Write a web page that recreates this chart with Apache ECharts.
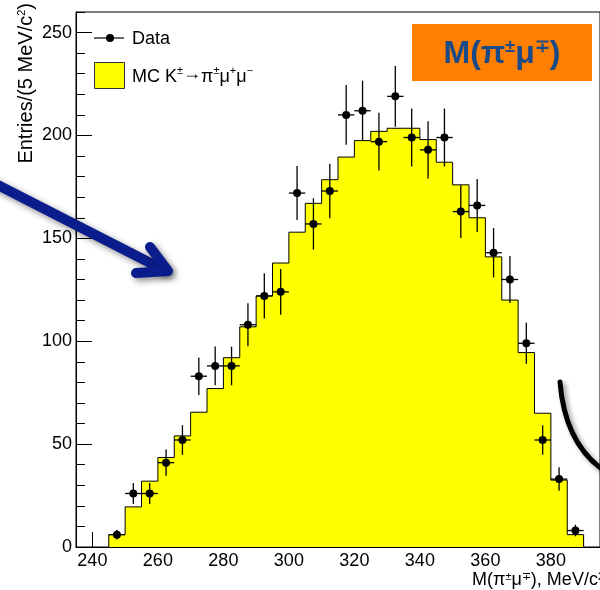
<!DOCTYPE html>
<html>
<head>
<meta charset="utf-8">
<script src="https://cdn.jsdelivr.net/npm/echarts@6.0.0/dist/echarts.min.js"></script>
<style>
  html, body { margin: 0; padding: 0; background: #fff; }
  #chart { width: 600px; height: 590px; }
</style>
</head>
<body>
<div id="chart"></div>
<script>
// bin centres, MeV/c^2 (5 MeV bins)
const binCentres = [247.5, 252.5, 257.5, 262.5, 267.5, 272.5, 277.5, 282.5, 287.5, 292.5,
  297.5, 302.5, 307.5, 312.5, 317.5, 322.5, 327.5, 332.5, 337.5, 342.5,
  347.5, 352.5, 357.5, 362.5, 367.5, 372.5, 377.5, 382.5, 387.5];
const binWidth = 5;
// MC K -> pi mu mu
const mcCounts = [6, 19.5, 32, 43.5, 54, 65.5, 77, 92, 107, 122,
  138, 153, 167, 178.5, 189.5, 197.5, 202, 203.5, 203.5, 198,
  187, 176, 160, 141, 120, 94.5, 65, 32.5, 6];
// data points and their errors
const dataCounts = [6, 26, 26, 41, 52, 83, 88, 88, 108, 122,
  124, 172, 157, 173, 210, 212, 197, 219, 199, 193,
  199, 163, 166, 143, 130, 99, 52, 33, 8];
const dataErrors = [2.4, 5.1, 5.1, 6.4, 7.2, 9.1, 9.4, 9.4, 10.4, 11,
  11.1, 13.1, 12.5, 13.2, 14.5, 14.6, 14, 14.8, 14.1, 13.9,
  14.1, 12.8, 12.9, 12, 11.4, 10, 7.2, 5.7, 2.8];
const xMajorTicks = [240, 260, 280, 300, 320, 340, 360, 380];
const yMajorTicks = [0, 50, 100, 150, 200, 250];

const FONT = '"Liberation Sans", Arial, Helvetica, sans-serif';

// step outline of the MC histogram, from bin edges
const mcStep = [[binCentres[0] - binWidth / 2, 0]];
binCentres.forEach((c, i) => mcStep.push([c - binWidth / 2, mcCounts[i]]));
const last = binCentres.length - 1;
mcStep.push([binCentres[last] + binWidth / 2, mcCounts[last]]);
mcStep.push([binCentres[last] + binWidth / 2, 0]);

const points = binCentres.map((c, i) => [c, dataCounts[i], dataErrors[i]]);

const myChart = echarts.init(document.getElementById('chart'));

const sup = { fontSize: 11, verticalAlign: 'top', lineHeight: 11, fontFamily: FONT };
const arrowTok = { fontSize: 18, fontFamily: FONT, fill: '#000', padding: [0, 0, 6, 0] };

let option = {
  animation: false,
  backgroundColor: '#fff',
  grid: {
    left: 76,
    top: 12,
    width: 528,
    height: 535,
    show: true,
    borderColor: '#000',
    borderWidth: 1,
    containLabel: false
  },
  xAxis: [
    {
      type: 'value',
      min: 235,
      max: 395,
      axisLine: { show: true, onZero: false, lineStyle: { color: '#000', width: 1 } },
      axisTick: { show: true, inside: true, length: 15, customValues: xMajorTicks, lineStyle: { color: '#000' } },
      axisLabel: { customValues: xMajorTicks, color: '#000', fontSize: 18, fontFamily: FONT, margin: 5 },
      splitLine: { show: false }
    },
    {
      // minor ticks every 5
      type: 'value',
      position: 'bottom',
      min: 235,
      max: 395,
      interval: 5,
      axisLine: { show: false },
      axisTick: { show: true, inside: true, length: 8, lineStyle: { color: '#000' } },
      axisLabel: { show: false },
      splitLine: { show: false }
    }
  ],
  yAxis: [
    {
      type: 'value',
      min: 0,
      max: 260,
      axisLine: { show: true, onZero: false, lineStyle: { color: '#000', width: 1 } },
      axisTick: { show: true, inside: true, length: 16, customValues: yMajorTicks, lineStyle: { color: '#000' } },
      axisLabel: { customValues: yMajorTicks, color: '#000', fontSize: 18, fontFamily: FONT, margin: 4 },
      splitLine: { show: false }
    },
    {
      // minor ticks every 10
      type: 'value',
      position: 'left',
      min: 0,
      max: 260,
      interval: 10,
      axisLine: { show: false },
      axisTick: { show: true, inside: true, length: 9, lineStyle: { color: '#000' } },
      axisLabel: { show: false },
      splitLine: { show: false }
    }
  ],
  series: [
    {
      name: 'MC',
      type: 'line',
      step: 'end',
      xAxisIndex: 0,
      yAxisIndex: 0,
      symbol: 'none',
      lineStyle: { color: '#000', width: 1 },
      areaStyle: { color: '#ffff00', opacity: 1 },
      data: mcStep,
      z: 2
    },
    {
      name: 'Data',
      type: 'custom',
      xAxisIndex: 0,
      yAxisIndex: 0,
      encode: { x: 0, y: 1 },
      renderItem: function (params, api) {
        const x = api.value(0), y = api.value(1), e = api.value(2);
        const c = api.coord([x, y]);
        const top = api.coord([x, y + e]);
        const bot = api.coord([x, y - e]);
        const l = api.coord([x - binWidth / 2, y]);
        const r = api.coord([x + binWidth / 2, y]);
        const st = { stroke: '#000', lineWidth: 1.3 };
        return {
          type: 'group',
          children: [
            { type: 'line', shape: { x1: c[0], y1: top[1], x2: c[0], y2: bot[1] }, style: st },
            { type: 'line', shape: { x1: l[0], y1: c[1], x2: r[0], y2: c[1] }, style: st },
            { type: 'circle', shape: { cx: c[0], cy: c[1], r: 4 }, style: { fill: '#000' } }
          ]
        };
      },
      data: points,
      z: 3
    }
  ],
  graphic: [
    // y axis title
    {
      type: 'text', x: 26, y: 3, rotation: Math.PI / 2, z: 10,
      style: {
        text: '{n|Entries/(5 MeV/c}{s|2}{n|)}',
        align: 'right', verticalAlign: 'middle',
        rich: { n: { fontSize: 20, fontFamily: FONT, fill: '#000' }, s: sup }
      }
    },
    // x axis title
    {
      type: 'text', x: 604, y: 580, z: 10,
      style: {
        text: '{n|M(π}{s|±}{n|μ}{s|∓}{n|), MeV/c}{s|2}',
        align: 'right', verticalAlign: 'middle',
        rich: { n: { fontSize: 18, fontFamily: FONT, fill: '#000' }, s: sup }
      }
    },
    // legend
    { type: 'line', shape: { x1: 94, y1: 38, x2: 124, y2: 38 }, style: { stroke: '#000', lineWidth: 1.2 }, z: 10 },
    { type: 'circle', shape: { cx: 110, cy: 38, r: 4 }, style: { fill: '#000' }, z: 10 },
    {
      type: 'text', x: 132, y: 39, z: 10,
      style: { text: 'Data', fontSize: 18, fontFamily: FONT, fill: '#000', verticalAlign: 'middle' }
    },
    { type: 'rect', shape: { x: 94.5, y: 62.5, width: 30, height: 26 }, style: { fill: '#ffff00', stroke: '#333', lineWidth: 1 }, z: 10 },
    {
      type: 'text', x: 132, y: 77, z: 10,
      style: {
        text: '{n|MC K}{s|±}{a|→}{n|π}{s|±}{n|μ}{s|+}{n|μ}{s|−}',
        verticalAlign: 'middle',
        rich: { n: { fontSize: 18, fontFamily: FONT, fill: '#000' }, s: sup, a: arrowTok }
      }
    },
    // title box
    { type: 'rect', shape: { x: 412, y: 24, width: 180, height: 57 }, style: { fill: '#ff7f00' }, z: 10 },
    {
      type: 'text', x: 502, y: 54, z: 11,
      style: {
        text: '{n|M(π}{s|±}{n|μ}{s|∓}{n|)}',
        align: 'center', verticalAlign: 'middle',
        rich: {
          n: { fontSize: 32, fontWeight: 'bold', fontFamily: FONT, fill: '#1a4a88' },
          s: { fontSize: 18, fontWeight: 'bold', fontFamily: FONT, fill: '#1a4a88', verticalAlign: 'top', lineHeight: 18 }
        }
      }
    },
    // blue arrow
    {
      type: 'polyline', z: 12,
      shape: { points: [[-10, 181], [164, 270]] },
      style: {
        stroke: '#0b1d8c', lineWidth: 10, lineCap: 'round', lineJoin: 'round', fill: null,
        shadowBlur: 6, shadowColor: 'rgba(0,0,0,0.45)', shadowOffsetX: 3, shadowOffsetY: 3
      }
    },
    {
      type: 'polyline', z: 12,
      shape: { points: [[150, 247], [168, 271], [136, 273]] },
      style: {
        stroke: '#0b1d8c', lineWidth: 10, lineCap: 'round', lineJoin: 'round', fill: null,
        shadowBlur: 6, shadowColor: 'rgba(0,0,0,0.45)', shadowOffsetX: 3, shadowOffsetY: 3
      }
    },
    // black arc
    {
      type: 'bezierCurve', z: 12,
      shape: { x1: 560, y1: 382, cpx1: 565, cpy1: 445, x2: 606, y2: 472 },
      style: {
        stroke: '#000', lineWidth: 5, lineCap: 'round', fill: null,
        shadowBlur: 5, shadowColor: 'rgba(0,0,0,0.4)', shadowOffsetX: 3, shadowOffsetY: 3
      }
    }
  ]
};

myChart.setOption(option);
</script>
</body>
</html>
